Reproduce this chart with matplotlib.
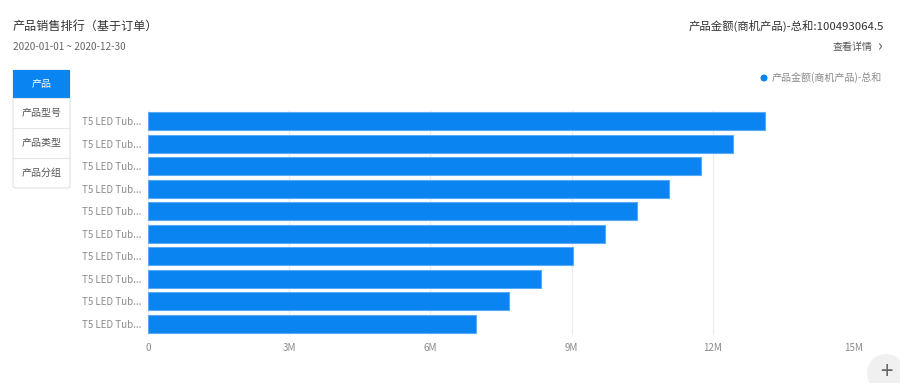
import matplotlib
matplotlib.use('Agg')
import matplotlib.pyplot as plt
from matplotlib.patches import FancyBboxPatch, Rectangle, Ellipse

plt.rcParams['font.family'] = ['Noto Sans CJK SC', 'DejaVu Sans']

# data (top to bottom)
products = ['T5 LED Tub...'] * 10
values = [13.11, 12.43, 11.75, 11.07, 10.39, 9.71, 9.03, 8.35, 7.67, 6.97]  # millions
xticks = [0, 3, 6, 9, 12, 15]
xtick_labels = ['0', '3M', '6M', '9M', '12M', '15M']
tabs = ['产品', '产品型号', '产品类型', '产品分组']

W, H = 900, 383
fig = plt.figure(figsize=(9, 3.83), dpi=100)

def fx(px):
    return px / W

def fy(py):
    return 1 - py / H

def dot(x, y, r, color):
    # round dot given in pixels
    fig.patches.append(Ellipse((fx(x), fy(y)), 2 * r / W, 2 * r / H, transform=fig.transFigure,
                               facecolor=color, edgecolor='none'))

ax = fig.add_axes([fx(148), fy(335), fx(854) - fx(148), fy(110) - fy(335)])
ypos = list(range(len(values)))
ax.barh(ypos, values, height=0.8, color='#0a84f0', edgecolor='#5aaaf6', linewidth=0.8, zorder=3)
ax.set_ylim(len(values) - 0.5, -0.5)
ax.set_xlim(0, 15)
ax.set_xticks(xticks)
ax.set_xticklabels(xtick_labels)
ax.set_yticks(ypos)
ax.set_yticklabels(products)
ax.grid(axis='x', color='#ececec', linewidth=0.8, zorder=0)
for s in ax.spines.values():
    s.set_visible(False)
ax.tick_params(axis='both', length=0, labelsize=7, labelcolor='#8a8a8a')
ax.tick_params(axis='x', pad=6)
ax.tick_params(axis='y', pad=5)

# header texts
fig.text(fx(13), fy(26), '产品销售排行（基于订单）', fontsize=8.7, color='#333333', va='center', ha='left')
fig.text(fx(13), fy(47), '2020-01-01 ~ 2020-12-30', fontsize=7.2, color='#666666', va='center', ha='left')
fig.text(fx(884), fy(26), '产品金额(商机产品)-总和:100493064.5', fontsize=8.2, color='#333333', va='center', ha='right')
fig.text(fx(873), fy(47), '查看详情', fontsize=7.2, color='#555555', va='center', ha='right')
fig.text(fx(882), fy(47), '›', fontsize=11, color='#555555', va='center', ha='right')
fig.text(fx(882), fy(78), '产品金额(商机产品)-总和', fontsize=7.2, color='#8a8a8a', va='center', ha='right')
dot(764, 78, 3.5, '#0a84f0')

# tab box on the left
fig.patches.append(FancyBboxPatch((fx(13), fy(188)), fx(70) - fx(13), fy(70) - fy(188),
                                  boxstyle='round,pad=0,rounding_size=0.004', transform=fig.transFigure,
                                  facecolor='white', edgecolor='#e2e2e2', linewidth=0.8))
fig.patches.append(Rectangle((fx(13), fy(98)), fx(70) - fx(13), fy(70) - fy(98),
                             transform=fig.transFigure, facecolor='#0a84f0', edgecolor='none'))
row_tops = [70, 98, 128, 158, 188]
for i, t in enumerate(tabs):
    cy = (row_tops[i] + row_tops[i + 1]) / 2
    fig.text(fx(41.5), fy(cy), t, fontsize=7.2, color='white' if i == 0 else '#555555',
             va='center', ha='center')
    if i > 0:
        fig.add_artist(plt.Line2D([fx(13), fx(70)], [fy(row_tops[i]), fy(row_tops[i])],
                                  color='#e6e6e6', linewidth=0.8))

# plus button bottom right
dot(886, 373, 19, '#f0f0f0')
fig.text(fx(886), fy(373), '+', fontsize=16, color='#666666', va='center', ha='center')

fig.savefig('out.png', dpi=100)
